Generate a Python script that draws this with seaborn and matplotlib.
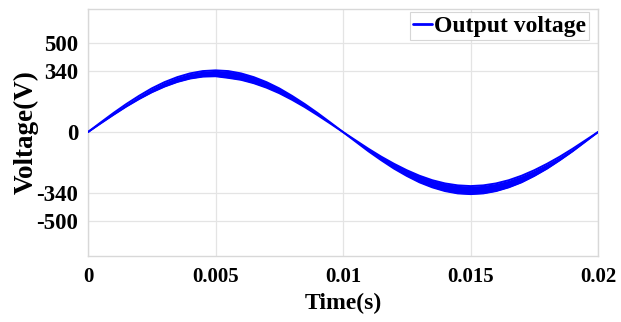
import matplotlib
matplotlib.use("Agg")
import matplotlib.pyplot as plt
import seaborn as sns
import numpy as np
import pandas as pd

# Time axis (s)
time_s = [0.0000, 0.0005, 0.0010, 0.0015, 0.0020, 0.0025, 0.0030, 0.0035, 0.0040, 0.0045,
          0.0050, 0.0055, 0.0060, 0.0065, 0.0070, 0.0075, 0.0080, 0.0085, 0.0090, 0.0095,
          0.0100, 0.0105, 0.0110, 0.0115, 0.0120, 0.0125, 0.0130, 0.0135, 0.0140, 0.0145,
          0.0150, 0.0155, 0.0160, 0.0165, 0.0170, 0.0175, 0.0180, 0.0185, 0.0190, 0.0195,
          0.0200]

# Upper envelope of the ripple band (V)
v_upper = [0, 54, 107, 157, 203, 245, 280, 308, 329, 342,
           346, 342, 329, 308, 280, 245, 203, 157, 107, 54,
           0, -47, -94, -138, -178, -214, -245, -270, -288, -299,
           -303, -299, -288, -270, -245, -214, -178, -138, -94, -47,
           0]

# Lower envelope of the ripple band (V)
v_lower = [0, 49, 97, 143, 185, 223, 255, 281, 300, 311,
           313, 304, 293, 274, 249, 218, 181, 140, 95, 48,
           0, -54, -108, -158, -205, -246, -282, -310, -331, -344,
           -348, -344, -331, -310, -282, -246, -205, -158, -108, -54,
           0]

x_ticks = [0, 0.005, 0.01, 0.015, 0.02]
x_tick_labels = ["0", "0.005", "0.01", "0.015", "0.02"]
y_ticks = [-500, -340, 0, 340, 500]
y_tick_labels = ["-500", "-340", "0", "340", "500"]

sns.set_theme(style="whitegrid")
plt.rcParams['font.family'] = ['Liberation Serif', 'DejaVu Serif']
plt.rcParams['font.weight'] = 'bold'
plt.rcParams['text.color'] = 'black'
plt.rcParams['xtick.color'] = 'black'
plt.rcParams['ytick.color'] = 'black'
plt.rcParams['axes.labelcolor'] = 'black'

df = pd.DataFrame({"t": time_s, "up": v_upper, "lo": v_lower})

fig = plt.figure(figsize=(6.21, 3.22), dpi=100)
ax = fig.add_axes([0.1417, 0.205, 0.963 - 0.1417, 0.972 - 0.205])

blue = "#0000ff"
ax.fill_between(df["t"], df["lo"], df["up"], color=blue, linewidth=0, zorder=3)
sns.lineplot(data=df, x="t", y="up", ax=ax, color=blue, linewidth=1.4,
             label="Output voltage", zorder=4)
sns.lineplot(data=df, x="t", y="lo", ax=ax, color=blue, linewidth=1.4,
             legend=False, zorder=4)

ax.set_xlim(0, 0.02)
ax.set_ylim(-695, 690)
ax.set_xticks(x_ticks)
ax.set_xticklabels(x_tick_labels)
ax.set_yticks(y_ticks)
ax.set_yticklabels(y_tick_labels)

ax.tick_params(axis="x", labelsize=15, length=0, pad=8, colors="black")
ax.tick_params(axis="y", labelsize=16.5, length=0, pad=7, colors="black")
for lab in ax.get_xticklabels() + ax.get_yticklabels():
    lab.set_fontweight("bold")

ax.set_xlabel("Time(s)", fontsize=17, fontweight="bold", labelpad=4, color="black")
ax.set_ylabel("Voltage(V)", fontsize=19.5, fontweight="bold", labelpad=-2, color="black")

ax.grid(True, color="#e4e4e4", linewidth=0.9)
ax.set_facecolor("white")
for sp in ax.spines.values():
    sp.set_color("#d8d8d8")
    sp.set_linewidth(1.0)

leg = ax.legend(loc="upper right", bbox_to_anchor=(0.982, 0.986), fontsize=17,
                frameon=True, fancybox=False,
                handlelength=0.8, handletextpad=0.1, borderpad=0.12,
                borderaxespad=0.0)
leg.get_frame().set_edgecolor("#cccccc")
leg.get_frame().set_linewidth(0.8)
for line in leg.get_lines():
    line.set_linewidth(2.0)
for txt in leg.get_texts():
    txt.set_fontweight("bold")
    txt.set_color("black")

fig.savefig("out.png", dpi=100)
